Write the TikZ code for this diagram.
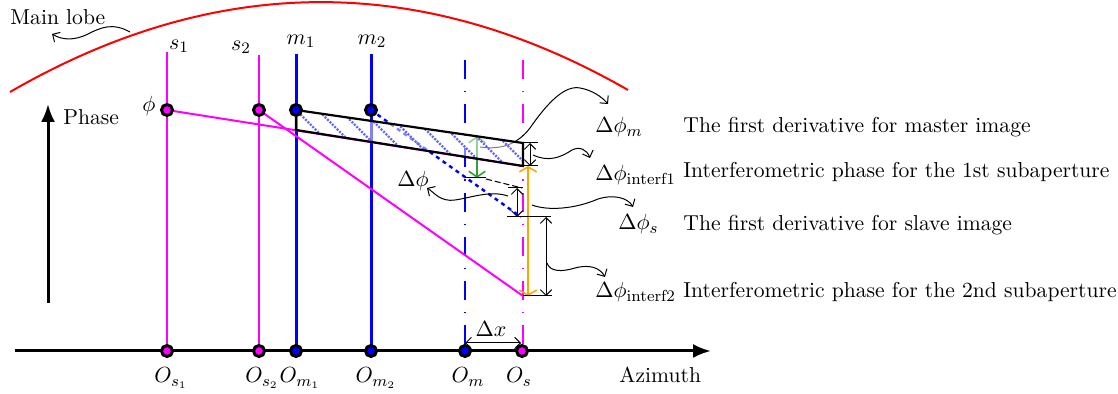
\documentclass[tikz,border=0pt]{standalone}
\usetikzlibrary{arrows.meta}
\definecolor{orng}{RGB}{255,165,0}
\definecolor{grn}{RGB}{50,160,50}
\definecolor{mag}{RGB}{255,0,255}
\tikzset{
  conn/.style={black, line width=0.5pt, -{Straight Barb[angle=90:4pt]}},
  dimarrow/.style={line width=0.5pt, {Straight Barb[angle=90:4pt]}-{Straight Barb[angle=90:4pt]}},
  tickline/.style={black, line width=0.5pt},
  dotm/.style={circle, draw=black, line width=1.5pt, fill=mag, minimum size=5.5pt, inner sep=0pt},
  dotb/.style={circle, draw=black, line width=1.5pt, fill=blue, minimum size=5.5pt, inner sep=0pt},
  dashdot/.style={line width=1pt, dash pattern=on 9.5pt off 6pt on 0.6pt off 6pt},
  hatchline/.style={blue!60, line width=1.2pt, dash pattern=on 1pt off 0.7pt},
  boxedge/.style={black, line width=1.1pt},
  bigarrow/.style={black, line width=1.5pt, -{Latex[length=9pt,width=7pt]}},
  txt/.style={inner sep=0pt},
}
\begin{document}
\begin{tikzpicture}[x=0.5pt,y=-0.5pt, every node/.style={font=\fontsize{10.8pt}{13pt}\selectfont}]
\useasboundingbox (0,0) rectangle (1118,394);
% coordinates
\coordinate (ps1) at (167,110);
\coordinate (ps2) at (259,110);
\coordinate (pm1) at (296,110);
\coordinate (pm2) at (371,110);
\coordinate (as1) at (167,351);
\coordinate (as2) at (259,351);
\coordinate (am1) at (296,351);
\coordinate (am2) at (371,351);
\coordinate (am) at (465,351);
\coordinate (as) at (522,351);
\coordinate (btr) at (523,143);
\coordinate (bbr) at (523,166);
\coordinate (bbl) at (296,130);
\coordinate (send) at (523,296);
\coordinate (dend) at (521,217);

% main lobe
\draw[red, line width=1pt] (10,92) .. controls (216,-27) and (422,-28) .. (628,90);
\node[txt, anchor=base west] (lobe) at (10,25) {Main lobe};
\draw[conn] (130,32) .. controls (112,22) and (100,28) .. (88,34) .. controls (74,41) and (62,40) .. (52,34);

% axes
\draw[bigarrow] (15,351) -- (711,351);
\draw[bigarrow] (48,303) -- (48,104);
\node[txt, anchor=base west] (phase) at (63,125) {Phase};
\node[txt, anchor=base west] (azi) at (619,383) {Azimuth};

% vertical lines
\draw[mag, line width=1.2pt] (167,52) -- (as1);
\draw[mag, line width=0.8pt] (259,55) -- (as2);
\draw[blue, line width=1.5pt] (296,54) -- (am1);
\draw[blue, line width=1.5pt] (371,54) -- (am2);
\draw[blue, dashdot] (465,60) -- (am);
\draw[mag, dashdot] (523,60) -- (523,351);

\node (ls1) at (179,46) {$s_1$};
\node (ls2) at (241,47) {$s_2$};
\node (lm1) at (301,41) {$m_1$};
\node (lm2) at (372,41) {$m_2$};
\node (lphi) at (149,106) {$\phi$};

% phase lines
\draw[mag, line width=1pt] (ps1) -- (bbr);
\draw[mag, line width=1pt] (ps2) -- (send);
\draw[blue, line width=1.2pt, dash pattern=on 2pt off 2pt] (pm2) -- (dend);

% green arrow and dashed
\draw[grn, dimarrow, line width=0.8pt, {Straight Barb[angle=110:5pt]}-{Straight Barb[angle=110:5pt]}] (477,136) -- (477,178);
\draw[tickline] (465,178) -- (486,178);
\draw[tickline, dash pattern=on 3pt off 1.5pt] (486,179) -- (522,188);
\draw[conn] (480,147) .. controls (500,150) and (517,145) .. (530,128) .. controls (548,102) and (565,85) .. (580,88) .. controls (592,90) and (602,97) .. (608,104);

% box
\begin{scope}
\clip (pm1) -- (btr) -- (bbr) -- (bbl) -- cycle;
\fill[white, opacity=0.5] (pm1) -- (btr) -- (bbr) -- (bbl) -- cycle;
\foreach \x in {220,242,...,528} \draw[hatchline] (\x,100) -- ++(80,80);
\end{scope}
\draw[boxedge] (pm1) -- (btr) -- (bbr) -- (bbl) -- cycle;

% right dimension arrows
\draw[tickline] (523,143) -- (538,143);
\draw[tickline] (523,166) -- (538,166);
\draw[dimarrow] (530,143) -- (530,166);
\draw[orng, line width=0.8pt, {Straight Barb[angle=120:5pt]}-{Straight Barb[angle=120:5pt]}] (528,166) -- (528,296);
\draw[tickline] (508,188) -- (523,188);
\draw[tickline] (507,217) -- (551,217);
\draw[dimarrow] (517,188) -- (517,217);
\draw[tickline] (523,296) -- (552,296);
\draw[dimarrow] (546,217) -- (546,296);

% connectors to labels
\draw[conn] (533,155) .. controls (548,162) and (560,158) .. (572,150) .. controls (580,146) and (587,150) .. (590,158);
\draw[conn] (508,196) .. controls (490,190) and (470,198) .. (455,200) .. controls (440,202) and (435,193) .. (427,188);
\draw[conn] (532,205) .. controls (548,211) and (575,209) .. (598,199) .. controls (614,194) and (628,198) .. (633,207);
\draw[conn] (547,263) .. controls (550,272) and (562,272) .. (575,268) .. controls (590,264) and (600,268) .. (605,277);

\node (ldphi) at (413,181) {$\Delta\phi$};

% dx
\draw[dimarrow] (465,343) -- (521,343);
\node (ldx) at (491,329) {$\Delta x$};

% labels right
\node[txt, anchor=base west] (lm) at (595,133) {$\Delta\phi_m$};
\node[txt, anchor=base west] (li1) at (595,181) {$\Delta\phi_{\mathrm{interf1}}$};
\node[txt, anchor=base east] (lsl) at (659,230) {$\Delta\phi_s$};
\node[txt, anchor=base west] (li2) at (595,298) {$\Delta\phi_{\mathrm{interf2}}$};
\node[txt, anchor=base west] (d1) at (683,133) {The first derivative for master image};
\node[txt, anchor=base west] (d2) at (683,178) {Interferometric phase for the 1st subaperture};
\node[txt, anchor=base west] (d3) at (683,231) {The first derivative for slave image};
\node[txt, anchor=base west] (d4) at (683,298) {Interferometric phase for the 2nd subaperture};

% dots
\node[dotm] (nps1) at (ps1) {};
\node[dotm] (nps2) at (ps2) {};
\node[dotb] (npm1) at (pm1) {};
\node[dotb] (npm2) at (pm2) {};
\node[dotm] (nas1) at (as1) {};
\node[dotm] (nas2) at (as2) {};
\node[dotb] (nam1) at (am1) {};
\node[dotb] (nam2) at (am2) {};
\node[dotb] (nam) at (am) {};
\node[dotm] (nas) at (as) {};

% axis labels
\node[anchor=base] (los1) at (171,383) {$O_{s_1}$};
\node[anchor=base] (los2) at (262,383) {$O_{s_2}$};
\node[anchor=base] (lom1) at (300,383) {$O_{m_1}$};
\node[anchor=base] (lom2) at (376,383) {$O_{m_2}$};
\node[anchor=base] (lom) at (468,383) {$O_m$};
\node[anchor=base] (los) at (519,383) {$O_s$};
\end{tikzpicture}
\end{document}
